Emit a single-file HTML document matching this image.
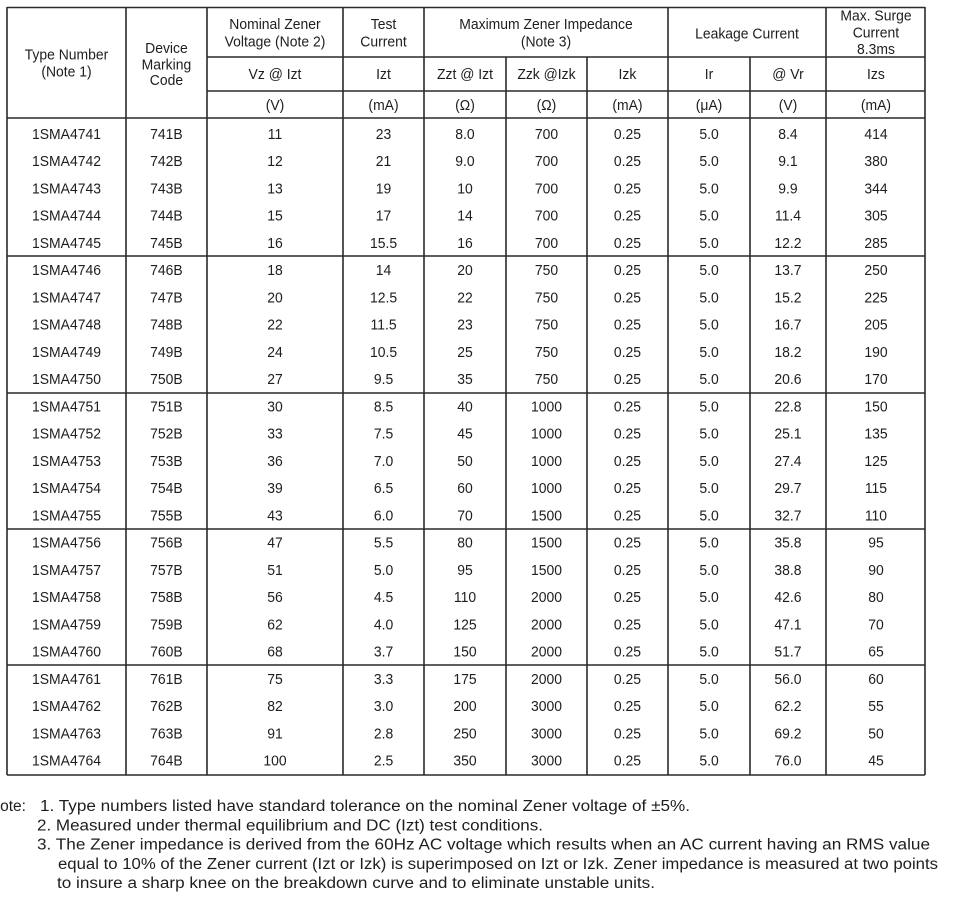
<!DOCTYPE html>
<html><head><meta charset="utf-8"><style>
html,body{margin:0;padding:0;background:#fff;}
svg{display:block;}
text{font-family:"Liberation Sans",Arial,sans-serif;fill:#1e1e1e;}
</style></head><body>
<svg width="958" height="903" viewBox="0 0 958 903" xmlns="http://www.w3.org/2000/svg">
<rect width="958" height="903" fill="#fff"/>
<g stroke="#2a2a2a" stroke-width="1.6" fill="none">
<line x1="7" y1="7.5" x2="925" y2="7.5"/>
<line x1="207" y1="57" x2="925" y2="57"/>
<line x1="207" y1="91" x2="925" y2="91"/>
<line x1="7" y1="118" x2="925" y2="118"/>
<line x1="7" y1="256" x2="925" y2="256"/>
<line x1="7" y1="393" x2="925" y2="393"/>
<line x1="7" y1="529" x2="925" y2="529"/>
<line x1="7" y1="665" x2="925" y2="665"/>
<line x1="7" y1="775" x2="925" y2="775"/>
<line x1="7" y1="7" x2="7" y2="775"/>
<line x1="126" y1="7" x2="126" y2="775"/>
<line x1="207" y1="7" x2="207" y2="775"/>
<line x1="343" y1="7" x2="343" y2="775"/>
<line x1="424" y1="7" x2="424" y2="775"/>
<line x1="506" y1="57" x2="506" y2="775"/>
<line x1="587" y1="57" x2="587" y2="775"/>
<line x1="668" y1="7" x2="668" y2="775"/>
<line x1="750" y1="57" x2="750" y2="775"/>
<line x1="826" y1="7" x2="826" y2="775"/>
<line x1="925" y1="7" x2="925" y2="775"/>
</g>
<g transform="scale(0.93,1)" font-size="15" text-anchor="middle">
<text x="71.5" y="59.5">Type Number</text>
<text x="71.5" y="76.5">(Note 1)</text>
<text x="179" y="53">Device</text>
<text x="179" y="69.5">Marking</text>
<text x="179" y="85">Code</text>
<text x="295.7" y="29">Nominal Zener</text>
<text x="295.7" y="46.5">Voltage (Note 2)</text>
<text x="412.4" y="29">Test</text>
<text x="412.4" y="46.5">Current</text>
<text x="587.1" y="29">Maximum Zener Impedance</text>
<text x="587.1" y="46.5">(Note 3)</text>
<text x="803.2" y="38.5">Leakage Current</text>
<text x="941.9" y="20.7">Max. Surge</text>
<text x="941.9" y="37.5">Current</text>
<text x="941.9" y="54">8.3ms</text>
<text y="79"><tspan x="295.7">Vz @ Izt</tspan><tspan x="412.4">Izt</tspan><tspan x="500">Zzt @ Izt</tspan><tspan x="587.6">Zzk @Izk</tspan><tspan x="674.7">Izk</tspan><tspan x="762.4">Ir</tspan><tspan x="847.3">@ Vr</tspan><tspan x="941.9">Izs</tspan></text>
<text y="110"><tspan x="295.7">(V)</tspan><tspan x="412.4">(mA)</tspan><tspan x="500">(Ω)</tspan><tspan x="587.6">(Ω)</tspan><tspan x="674.7">(mA)</tspan><tspan x="762.4">(μA)</tspan><tspan x="847.3">(V)</tspan><tspan x="941.9">(mA)</tspan></text>

<text y="139"><tspan x="71.5">1SMA4741</tspan><tspan x="179">741B</tspan><tspan x="295.7">11</tspan><tspan x="412.4">23</tspan><tspan x="500">8.0</tspan><tspan x="587.6">700</tspan><tspan x="674.7">0.25</tspan><tspan x="762.4">5.0</tspan><tspan x="847.3">8.4</tspan><tspan x="941.9">414</tspan></text>
<text y="166.2"><tspan x="71.5">1SMA4742</tspan><tspan x="179">742B</tspan><tspan x="295.7">12</tspan><tspan x="412.4">21</tspan><tspan x="500">9.0</tspan><tspan x="587.6">700</tspan><tspan x="674.7">0.25</tspan><tspan x="762.4">5.0</tspan><tspan x="847.3">9.1</tspan><tspan x="941.9">380</tspan></text>
<text y="193.5"><tspan x="71.5">1SMA4743</tspan><tspan x="179">743B</tspan><tspan x="295.7">13</tspan><tspan x="412.4">19</tspan><tspan x="500">10</tspan><tspan x="587.6">700</tspan><tspan x="674.7">0.25</tspan><tspan x="762.4">5.0</tspan><tspan x="847.3">9.9</tspan><tspan x="941.9">344</tspan></text>
<text y="220.7"><tspan x="71.5">1SMA4744</tspan><tspan x="179">744B</tspan><tspan x="295.7">15</tspan><tspan x="412.4">17</tspan><tspan x="500">14</tspan><tspan x="587.6">700</tspan><tspan x="674.7">0.25</tspan><tspan x="762.4">5.0</tspan><tspan x="847.3">11.4</tspan><tspan x="941.9">305</tspan></text>
<text y="248"><tspan x="71.5">1SMA4745</tspan><tspan x="179">745B</tspan><tspan x="295.7">16</tspan><tspan x="412.4">15.5</tspan><tspan x="500">16</tspan><tspan x="587.6">700</tspan><tspan x="674.7">0.25</tspan><tspan x="762.4">5.0</tspan><tspan x="847.3">12.2</tspan><tspan x="941.9">285</tspan></text>
<text y="275.2"><tspan x="71.5">1SMA4746</tspan><tspan x="179">746B</tspan><tspan x="295.7">18</tspan><tspan x="412.4">14</tspan><tspan x="500">20</tspan><tspan x="587.6">750</tspan><tspan x="674.7">0.25</tspan><tspan x="762.4">5.0</tspan><tspan x="847.3">13.7</tspan><tspan x="941.9">250</tspan></text>
<text y="302.4"><tspan x="71.5">1SMA4747</tspan><tspan x="179">747B</tspan><tspan x="295.7">20</tspan><tspan x="412.4">12.5</tspan><tspan x="500">22</tspan><tspan x="587.6">750</tspan><tspan x="674.7">0.25</tspan><tspan x="762.4">5.0</tspan><tspan x="847.3">15.2</tspan><tspan x="941.9">225</tspan></text>
<text y="329.7"><tspan x="71.5">1SMA4748</tspan><tspan x="179">748B</tspan><tspan x="295.7">22</tspan><tspan x="412.4">11.5</tspan><tspan x="500">23</tspan><tspan x="587.6">750</tspan><tspan x="674.7">0.25</tspan><tspan x="762.4">5.0</tspan><tspan x="847.3">16.7</tspan><tspan x="941.9">205</tspan></text>
<text y="356.9"><tspan x="71.5">1SMA4749</tspan><tspan x="179">749B</tspan><tspan x="295.7">24</tspan><tspan x="412.4">10.5</tspan><tspan x="500">25</tspan><tspan x="587.6">750</tspan><tspan x="674.7">0.25</tspan><tspan x="762.4">5.0</tspan><tspan x="847.3">18.2</tspan><tspan x="941.9">190</tspan></text>
<text y="384.2"><tspan x="71.5">1SMA4750</tspan><tspan x="179">750B</tspan><tspan x="295.7">27</tspan><tspan x="412.4">9.5</tspan><tspan x="500">35</tspan><tspan x="587.6">750</tspan><tspan x="674.7">0.25</tspan><tspan x="762.4">5.0</tspan><tspan x="847.3">20.6</tspan><tspan x="941.9">170</tspan></text>
<text y="411.4"><tspan x="71.5">1SMA4751</tspan><tspan x="179">751B</tspan><tspan x="295.7">30</tspan><tspan x="412.4">8.5</tspan><tspan x="500">40</tspan><tspan x="587.6">1000</tspan><tspan x="674.7">0.25</tspan><tspan x="762.4">5.0</tspan><tspan x="847.3">22.8</tspan><tspan x="941.9">150</tspan></text>
<text y="438.6"><tspan x="71.5">1SMA4752</tspan><tspan x="179">752B</tspan><tspan x="295.7">33</tspan><tspan x="412.4">7.5</tspan><tspan x="500">45</tspan><tspan x="587.6">1000</tspan><tspan x="674.7">0.25</tspan><tspan x="762.4">5.0</tspan><tspan x="847.3">25.1</tspan><tspan x="941.9">135</tspan></text>
<text y="465.9"><tspan x="71.5">1SMA4753</tspan><tspan x="179">753B</tspan><tspan x="295.7">36</tspan><tspan x="412.4">7.0</tspan><tspan x="500">50</tspan><tspan x="587.6">1000</tspan><tspan x="674.7">0.25</tspan><tspan x="762.4">5.0</tspan><tspan x="847.3">27.4</tspan><tspan x="941.9">125</tspan></text>
<text y="493.1"><tspan x="71.5">1SMA4754</tspan><tspan x="179">754B</tspan><tspan x="295.7">39</tspan><tspan x="412.4">6.5</tspan><tspan x="500">60</tspan><tspan x="587.6">1000</tspan><tspan x="674.7">0.25</tspan><tspan x="762.4">5.0</tspan><tspan x="847.3">29.7</tspan><tspan x="941.9">115</tspan></text>
<text y="520.4"><tspan x="71.5">1SMA4755</tspan><tspan x="179">755B</tspan><tspan x="295.7">43</tspan><tspan x="412.4">6.0</tspan><tspan x="500">70</tspan><tspan x="587.6">1500</tspan><tspan x="674.7">0.25</tspan><tspan x="762.4">5.0</tspan><tspan x="847.3">32.7</tspan><tspan x="941.9">110</tspan></text>
<text y="547.6"><tspan x="71.5">1SMA4756</tspan><tspan x="179">756B</tspan><tspan x="295.7">47</tspan><tspan x="412.4">5.5</tspan><tspan x="500">80</tspan><tspan x="587.6">1500</tspan><tspan x="674.7">0.25</tspan><tspan x="762.4">5.0</tspan><tspan x="847.3">35.8</tspan><tspan x="941.9">95</tspan></text>
<text y="574.8"><tspan x="71.5">1SMA4757</tspan><tspan x="179">757B</tspan><tspan x="295.7">51</tspan><tspan x="412.4">5.0</tspan><tspan x="500">95</tspan><tspan x="587.6">1500</tspan><tspan x="674.7">0.25</tspan><tspan x="762.4">5.0</tspan><tspan x="847.3">38.8</tspan><tspan x="941.9">90</tspan></text>
<text y="602.1"><tspan x="71.5">1SMA4758</tspan><tspan x="179">758B</tspan><tspan x="295.7">56</tspan><tspan x="412.4">4.5</tspan><tspan x="500">110</tspan><tspan x="587.6">2000</tspan><tspan x="674.7">0.25</tspan><tspan x="762.4">5.0</tspan><tspan x="847.3">42.6</tspan><tspan x="941.9">80</tspan></text>
<text y="629.3"><tspan x="71.5">1SMA4759</tspan><tspan x="179">759B</tspan><tspan x="295.7">62</tspan><tspan x="412.4">4.0</tspan><tspan x="500">125</tspan><tspan x="587.6">2000</tspan><tspan x="674.7">0.25</tspan><tspan x="762.4">5.0</tspan><tspan x="847.3">47.1</tspan><tspan x="941.9">70</tspan></text>
<text y="656.6"><tspan x="71.5">1SMA4760</tspan><tspan x="179">760B</tspan><tspan x="295.7">68</tspan><tspan x="412.4">3.7</tspan><tspan x="500">150</tspan><tspan x="587.6">2000</tspan><tspan x="674.7">0.25</tspan><tspan x="762.4">5.0</tspan><tspan x="847.3">51.7</tspan><tspan x="941.9">65</tspan></text>
<text y="683.8"><tspan x="71.5">1SMA4761</tspan><tspan x="179">761B</tspan><tspan x="295.7">75</tspan><tspan x="412.4">3.3</tspan><tspan x="500">175</tspan><tspan x="587.6">2000</tspan><tspan x="674.7">0.25</tspan><tspan x="762.4">5.0</tspan><tspan x="847.3">56.0</tspan><tspan x="941.9">60</tspan></text>
<text y="711"><tspan x="71.5">1SMA4762</tspan><tspan x="179">762B</tspan><tspan x="295.7">82</tspan><tspan x="412.4">3.0</tspan><tspan x="500">200</tspan><tspan x="587.6">3000</tspan><tspan x="674.7">0.25</tspan><tspan x="762.4">5.0</tspan><tspan x="847.3">62.2</tspan><tspan x="941.9">55</tspan></text>
<text y="738.3"><tspan x="71.5">1SMA4763</tspan><tspan x="179">763B</tspan><tspan x="295.7">91</tspan><tspan x="412.4">2.8</tspan><tspan x="500">250</tspan><tspan x="587.6">3000</tspan><tspan x="674.7">0.25</tspan><tspan x="762.4">5.0</tspan><tspan x="847.3">69.2</tspan><tspan x="941.9">50</tspan></text>
<text y="765.5"><tspan x="71.5">1SMA4764</tspan><tspan x="179">764B</tspan><tspan x="295.7">100</tspan><tspan x="412.4">2.5</tspan><tspan x="500">350</tspan><tspan x="587.6">3000</tspan><tspan x="674.7">0.25</tspan><tspan x="762.4">5.0</tspan><tspan x="847.3">76.0</tspan><tspan x="941.9">45</tspan></text>
</g>
<g font-size="15.5">
<text x="26" y="811" text-anchor="end">Note:</text>
<text x="40" y="811" textLength="650" lengthAdjust="spacingAndGlyphs">1. Type numbers listed have standard tolerance on the nominal Zener voltage of ±5%.</text>
<text x="37" y="830.3" textLength="506" lengthAdjust="spacingAndGlyphs">2. Measured under thermal equilibrium and DC (Izt) test conditions.</text>
<text x="37" y="849.6" textLength="893" lengthAdjust="spacingAndGlyphs">3. The Zener impedance is derived from the 60Hz AC voltage which results when an AC current having an RMS value</text>
<text x="58" y="868.9" textLength="880" lengthAdjust="spacingAndGlyphs">equal to 10% of the Zener current (Izt or Izk) is superimposed on Izt or Izk. Zener impedance is measured at two points</text>
<text x="57" y="888.2" textLength="598" lengthAdjust="spacingAndGlyphs">to insure a sharp knee on the breakdown curve and to eliminate unstable units.</text>
</g>
</svg>
</body></html>
